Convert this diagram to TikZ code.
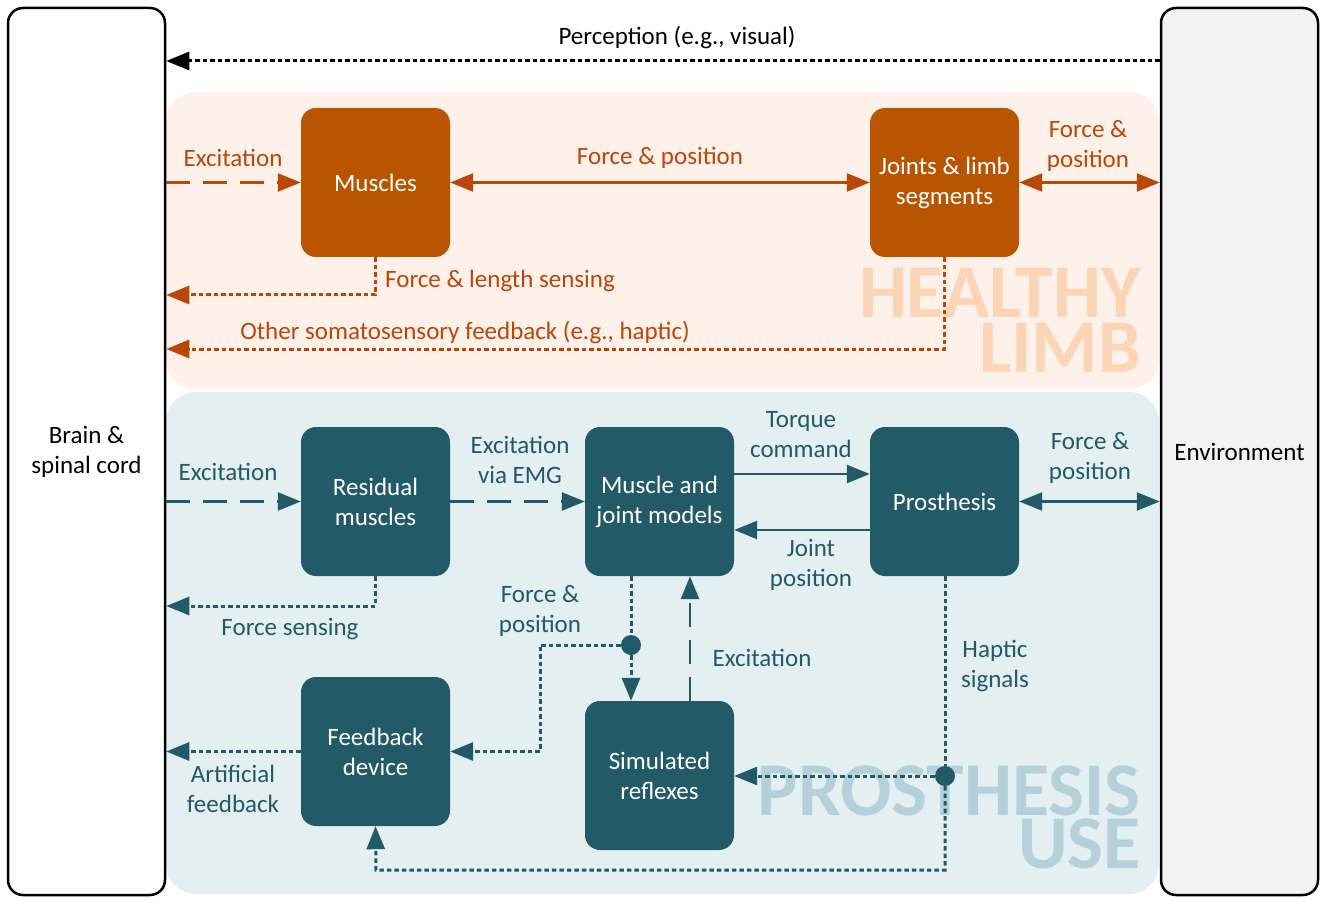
\documentclass[tikz,border=0pt]{standalone}
\usepackage{fontspec}
\setmainfont{Carlito}
\usetikzlibrary{arrows.meta,positioning}

\definecolor{rust}{HTML}{B95400}
\definecolor{rustline}{HTML}{BA460A}
\definecolor{rustpale}{HTML}{FDF1EA}
\definecolor{rustmark}{HTML}{FCD5B6}
\definecolor{petrol}{HTML}{225A67}
\definecolor{petrolpale}{HTML}{E3EFF1}
\definecolor{petrolmark}{HTML}{B5D0D8}
\definecolor{envgrey}{HTML}{F2F2F2}

\newcommand\lbl{\fontsize{25}{30}\selectfont}
\newcommand\wmfont{\fontsize{76}{55}\selectfont\bfseries}

\begin{document}
\begin{tikzpicture}[x=1pt, y=-1pt,
    >={Triangle[length=23pt,width=18pt]},
    side/.style={draw=black, line width=2.5pt, rounded corners=15pt, minimum width=157pt,
      minimum height=887pt, align=center, font=\lbl, inner sep=0pt},
    block/.style={rounded corners=15pt, minimum width=149pt, minimum height=149pt,
      text=white, align=center, font=\lbl, inner sep=0pt},
    txt/.style={align=center, font=\lbl, inner sep=0pt},
    wm/.style={font=\wmfont, anchor=base east, inner sep=0pt, text height=48pt, text depth=0pt},
    sig/.style={line width=2.5pt},
    dots/.style={sig, line width=3pt, dash pattern=on 4.5pt off 3pt},
    longdash/.style={sig, dash pattern=on 24pt off 13pt},
    dot/.style={circle, fill=petrol, minimum size=20pt, inner sep=0pt}]

  \useasboundingbox (0,0) rectangle (1325,901);

  \fill[rustpale, rounded corners=30pt] (166,92) rectangle (1159,389);
  \fill[petrolpale, rounded corners=30pt] (166,392) rectangle (1159,894);
  \node[wm, rustmark] (wmhealthy) at (1141,318) {HEALTHY};
  \node[wm, rustmark] (wmlimb) at (1141,372) {LIMB};
  \node[wm, petrolmark] (wmprosth) at (1141,815) {PROSTHESIS};
  \node[wm, petrolmark] (wmuse) at (1141,868) {USE};

  \node[side, fill=white] (brain) at (86.5,451.5) {Brain \&\\spinal cord};
  \node[side, fill=envgrey] (env) at (1239.5,451.5) {Environment};

  \node[block, fill=rust] (muscles) at (375.5,182.5) {Muscles};
  \node[block, fill=rust] (joints) at (944.5,182.5) {Joints \& limb\\segments};
  \node[block, fill=petrol] (residual) at (375.5,501.5) {Residual\\muscles};
  \node[block, fill=petrol] (models) at (659.5,501.5) {Muscle and\\joint models};
  \node[block, fill=petrol] (prosth) at (944.5,501.5) {Prosthesis};
  \node[block, fill=petrol] (feedback) at (375.5,751.5) {Feedback\\device};
  \node[block, fill=petrol] (reflexes) at (659.5,775.5) {Simulated\\reflexes};

  \coordinate (percy) at (0,61);
  \coordinate (flen) at (0,295);
  \coordinate (soma) at (0,349);
  \coordinate (fsens) at (0,606);
  \coordinate (fpturn) at (540,700);
  \coordinate (hapturn) at (376,870);
  \node[dot] (fpdot) at (631,645) {};
  \node[dot] (hapdot) at (945,776) {};

  \draw[dots, black, ->] (env.west |- percy) -- (brain.east |- percy);
  \node[txt] (perc) at (677,38) {Perception (e.g., visual)};

  \draw[longdash, rustline, ->] (brain.east |- muscles) -- (muscles.west);
  \draw[sig, rustline, <->] (muscles.east) -- (joints.west);
  \draw[sig, rustline, <->] (joints.east) -- (env.west |- joints);
  \draw[dots, rustline, ->] (muscles.south) |- (brain.east |- flen);
  \draw[dots, rustline, ->] (joints.south) |- (brain.east |- soma);
  \node[txt, text=rustline] (hexc) at (233,158) {Excitation};
  \node[txt, text=rustline] (hfp) at (660,158) {Force \& position};
  \node[txt, text=rustline] (hfpenv) at (1088,146) {Force \&\\position};
  \node[txt, text=rustline, anchor=west] (hfl) at (385,281) {Force \& length sensing};
  \node[txt, text=rustline] (hsoma) at (465,333) {Other somatosensory feedback (e.g., haptic)};

  \draw[longdash, petrol, ->] (brain.east |- residual) -- (residual.west);
  \draw[longdash, petrol, ->] (residual.east) -- (models.west);
  \draw[sig, petrol, ->] ([yshift=27.5pt]models.east) -- ([yshift=27.5pt]prosth.west);
  \draw[sig, petrol, ->] ([yshift=-28.5pt]prosth.west) -- ([yshift=-28.5pt]models.east);
  \draw[sig, petrol, <->] (prosth.east) -- (env.west |- prosth);
  \draw[dots, petrol, ->] (residual.south) |- (brain.east |- fsens);
  \draw[dots, petrol] (models.south -| fpdot) -- (fpdot);
  \draw[dots, petrol, ->] (fpdot) -- (reflexes.north -| fpdot);
  \draw[dots, petrol, ->] (fpdot) -| (fpturn) |- (feedback.east);
  \draw[longdash, petrol, ->] ([xshift=30.5pt]reflexes.north) -- ([xshift=30.5pt]models.south);
  \draw[dots, petrol] (prosth.south -| hapdot) -- (hapdot);
  \draw[dots, petrol, ->] (hapdot) -- (reflexes.east |- hapdot);
  \draw[dots, petrol, ->] (hapdot) |- (hapturn) -- (feedback.south);
  \draw[dots, petrol, ->] (feedback.west) -- (brain.east |- feedback.west);
  \node[txt, text=petrol] (pexc) at (228,472) {Excitation};
  \node[txt, text=petrol] (emg) at (520,460) {Excitation\\via EMG};
  \node[txt, text=petrol] (torque) at (801,435) {Torque\\command};
  \node[txt, text=petrol] (jpos) at (811,565) {Joint\\position};
  \node[txt, text=petrol] (pfpenv) at (1090,458) {Force \&\\position};
  \node[txt, text=petrol] (fsen) at (290,629) {Force sensing};
  \node[txt, text=petrol] (pfp) at (540,611) {Force \&\\position};
  \node[txt, text=petrol] (rexc) at (762,658) {Excitation};
  \node[txt, text=petrol] (hap) at (995,666) {Haptic\\signals};
  \node[txt, text=petrol] (art) at (233,789) {Artificial\\feedback};
\end{tikzpicture}
\end{document}
